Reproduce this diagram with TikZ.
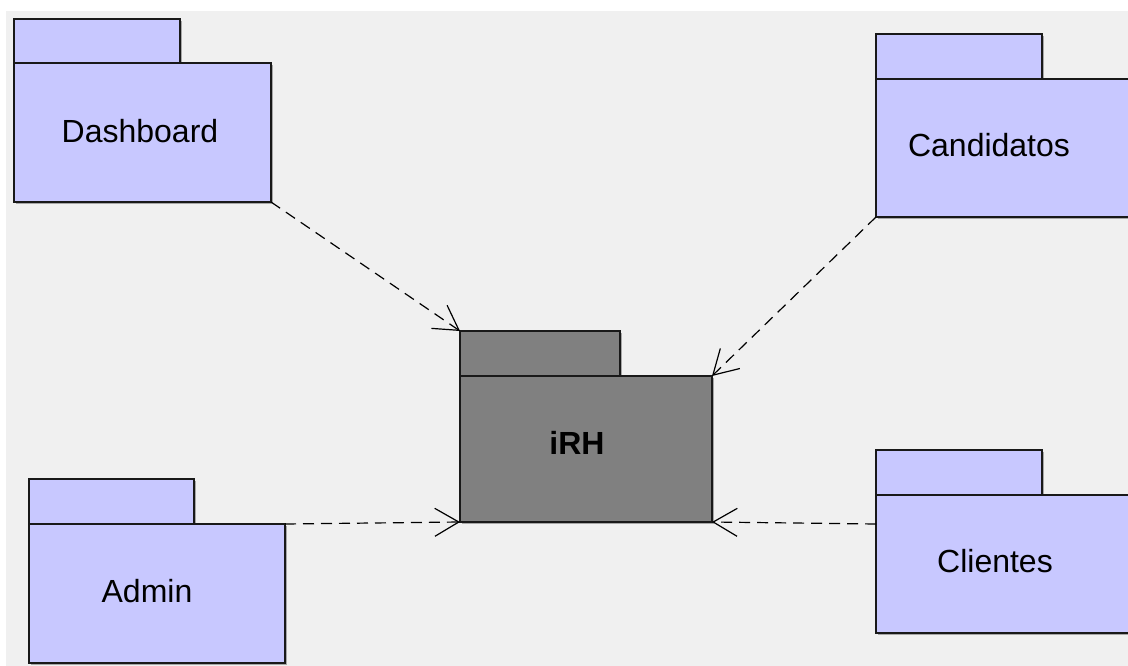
\documentclass[tikz,border=0pt]{standalone}
\usepackage{fontspec}
\setmainfont{Liberation Sans}
\usetikzlibrary{arrows.meta,shadows,calc}
\definecolor{lav}{RGB}{200,200,255}
\definecolor{bgc}{RGB}{240,240,240}
\definecolor{core}{RGB}{128,128,128}
\definecolor{edge}{RGB}{25,25,25}
\begin{document}
\begin{tikzpicture}[x=1pt,y=-1pt,
  pkg/.style={draw=edge, line width=1.6pt, inner sep=0pt, outer sep=0pt, anchor=north west,
    drop shadow={shadow xshift=2pt,shadow yshift=-2pt,opacity=.3,fill=black}},
  pkgl/.style={pkg, fill=lav},
  pkgc/.style={pkg, fill=core},
  lbl/.style={inner sep=0pt, font=\fontsize{32}{38}\selectfont},
  dep/.style={draw=black, line width=1.2pt, dash pattern=on 11pt off 7pt,
    -{Straight Barb[length=24pt,width=28pt,line width=1.2pt]}}]
\useasboundingbox (0,0) rectangle (1128,666);
\clip (0,0) rectangle (1128,666);
\fill[white] (0,0) rectangle (1128,666);
\fill[bgc] (6,11) rectangle (1128,666);

% Dashboard
\node[pkgl, minimum width=166pt, minimum height=44pt] (dashT) at (14,19) {};
\node[pkgl, minimum width=257pt, minimum height=139pt] (dashB) at (14,63) {};
\node[lbl] (dashL) at (140,131) {Dashboard};

% Candidatos
\node[pkgl, minimum width=166pt, minimum height=45pt] (candT) at (876,34) {};
\node[pkgl, minimum width=257pt, minimum height=138pt] (candB) at (876,79) {};
\node[lbl] (candL) at (989,145) {Candidatos};

% Admin
\node[pkgl, minimum width=165pt, minimum height=45pt] (admT) at (29,479) {};
\node[pkgl, minimum width=256pt, minimum height=139pt] (admB) at (29,524) {};
\node[lbl] (admL) at (147,591) {Admin};

% Clientes
\node[pkgl, minimum width=166pt, minimum height=45pt] (cliT) at (876,450) {};
\node[pkgl, minimum width=257pt, minimum height=138pt] (cliB) at (876,495) {};
\node[lbl] (cliL) at (995,561) {Clientes};

% iRH
\node[pkgc, minimum width=160pt, minimum height=45pt] (irhT) at (460,331) {};
\node[pkgc, minimum width=252pt, minimum height=146pt] (irhB) at (460,376) {};
\node[lbl, font=\fontsize{32}{38}\selectfont\bfseries] (irhL) at (577,443) {iRH};

% dependencies
\draw[dep] (dashB.south east) -- (irhT.north west);
\draw[dep] (candB.south west) -- (irhB.north east);
\draw[dep] (admB.north east) -- (irhB.south west);
\coordinate (clin) at ($(cliB.north west)+(0,29)$);
\draw[dep] (clin) -- (irhB.south east);
\end{tikzpicture}
\end{document}
